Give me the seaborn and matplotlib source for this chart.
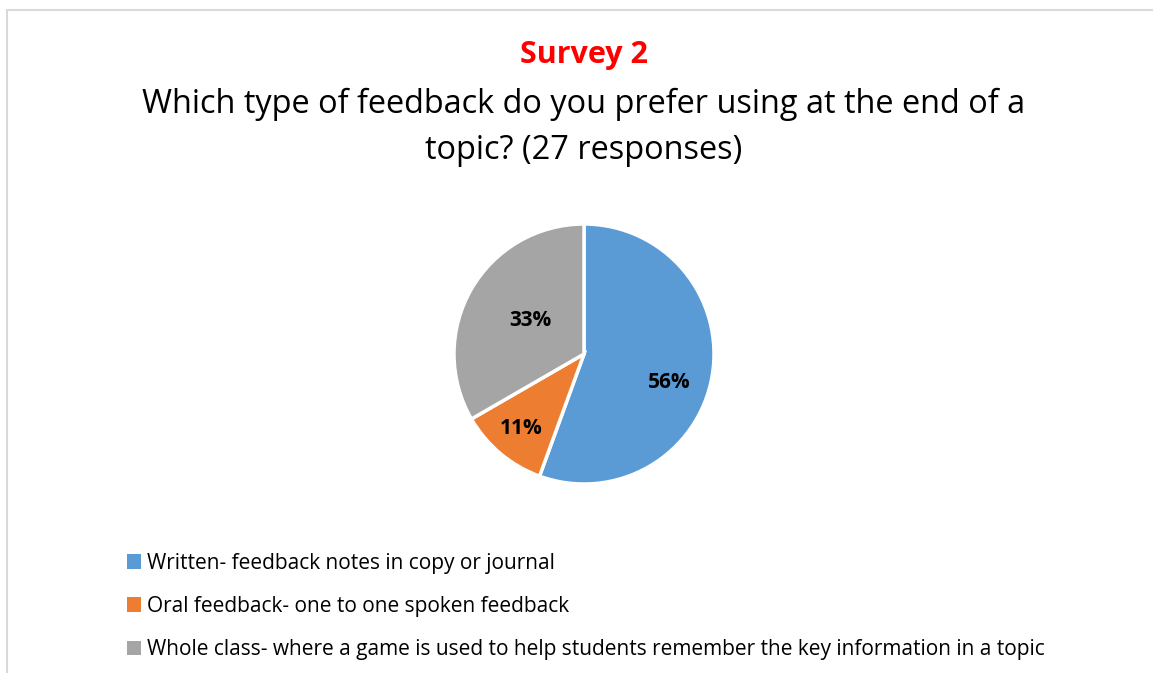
"""
Survey 2 - feedback preference pie
"""

import matplotlib
matplotlib.use('Agg')
import matplotlib.pyplot as plt
import seaborn as sns
import numpy as np
from matplotlib.patches import Patch, Rectangle

# data
categories = ['Written- feedback notes in copy or journal',
              'Oral feedback- one to one spoken feedback',
              'Whole class- where a game is used to help students remember the key information in a topic']
responses = [15, 3, 9]
colors = ['#5B9BD5', '#ED7D31', '#A5A5A5']

# label placement inside the slices (radius fraction, angle shift in degrees)
label_radius = [0.69, 0.75, 0.49]
label_shift = [-8.6, 0.0, -2.0]

sns.set_theme(style='white')
plt.rcParams['font.family'] = ['Open Sans', 'DejaVu Sans']

W, H = 1153, 673
fig = plt.figure(figsize=(W / 100, H / 100), dpi=100)

# chart border (cropped on right and bottom)
fig.patches.append(Rectangle((7 / W, -0.1), 1.2, (H - 10) / H + 0.1, transform=fig.transFigure,
                             fill=False, edgecolor='#D9D9D9', linewidth=1.5))

fig.text(584 / W, 1 - 55 / H, 'Survey 2', color='#FF0000', fontsize=22, fontweight='bold',
         ha='center', va='center')
fig.text(584 / W, 1 - 127 / H,
         'Which type of feedback do you prefer using at the end of a\ntopic? (27 responses)',
         color='black', fontsize=23.4, ha='center', va='center', linespacing=1.52)

cx, cy, r = 584, 354, 130
ax = fig.add_axes([(cx - r) / W, (H - cy - r) / H, 2 * r / W, 2 * r / H])
wedges, texts, autotexts = ax.pie(responses, colors=colors, startangle=90, counterclock=False,
                                  autopct='%1.0f%%', pctdistance=0.6,
                                  wedgeprops=dict(edgecolor='white', linewidth=2.5),
                                  textprops=dict(fontsize=15, fontweight='bold', color='black'))
for w, t, rr, sh in zip(wedges, autotexts, label_radius, label_shift):
    ang = np.deg2rad((w.theta1 + w.theta2) / 2 + sh)
    t.set_position((rr * np.cos(ang), rr * np.sin(ang)))
ax.set_xlim(-1.0, 1.0)
ax.set_ylim(-1.0, 1.0)
ax.axis('off')

handles = [Patch(facecolor=c, edgecolor='none') for c in colors]
leg = fig.legend(handles, categories, loc='upper left', bbox_to_anchor=(108 / W, 1 - 534 / H),
                 frameon=False, fontsize=15, handlelength=0.7, handleheight=0.7,
                 handletextpad=0.25, labelspacing=1.07)
for t in leg.get_texts():
    t.set_color('black')

plt.savefig('out.png', dpi=100)
plt.close()
